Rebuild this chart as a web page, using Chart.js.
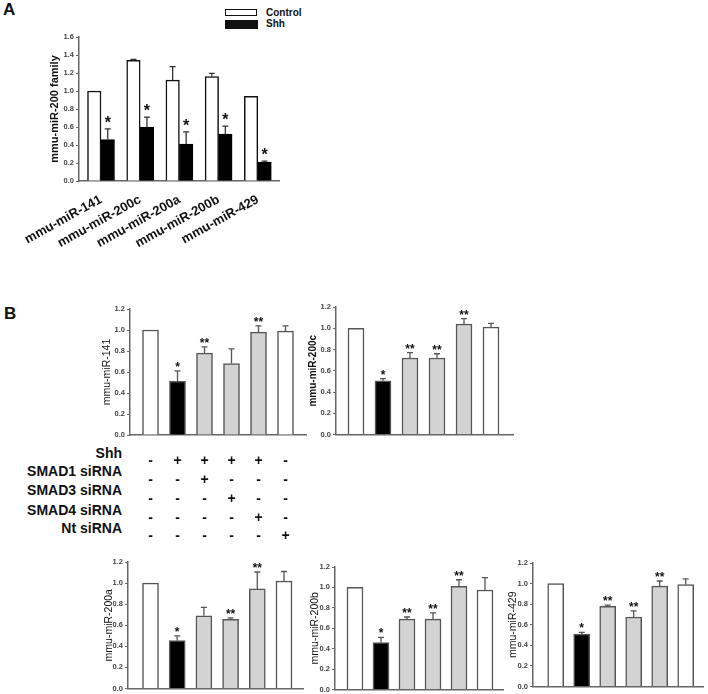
<!DOCTYPE html>
<html lang="en">
<head>
<meta charset="UTF-8">
<title>mmu-miR-200 family</title>
<script src="https://cdn.jsdelivr.net/npm/chart.js"></script>
<style>
  body { margin: 0; background: #fff; font-family: Arial, "Liberation Sans", sans-serif; }
  #page { position: relative; width: 708px; height: 694px; overflow: hidden; }
  .box { position: absolute; }
  .lbl { position: absolute; font-weight: bold; color: #111; white-space: nowrap; }
</style>
</head>
<body>
<div id="page">
  <div class="lbl" style="left:3px;top:0px;font-size:17px;">A</div>
  <div class="lbl" style="left:4px;top:304px;font-size:17px;">B</div>

  <div class="box" style="left:225px;top:9px;width:30px;height:5px;border:1.5px solid #111;background:#fff;"></div>
  <div class="box" style="left:225px;top:20px;width:33px;height:9px;background:#111;"></div>
  <div class="lbl" style="left:266px;top:7px;font-size:10px;">Control</div>
  <div class="lbl" style="left:266px;top:18px;font-size:10px;">Shh</div>
</div>

<script>
// ---- panel A ----
const groupsA = ['mmu-miR-141', 'mmu-miR-200c', 'mmu-miR-200a', 'mmu-miR-200b', 'mmu-miR-429'];
const controlA = [1.0, 1.34, 1.12, 1.16, 0.94];
const controlErrA = [0, 0.01, 0.15, 0.035, 0];
const shhA = [0.46, 0.60, 0.41, 0.52, 0.21];
const shhErrA = [0.12, 0.11, 0.135, 0.09, 0.01];
const starsA = ['*', '*', '*', '*', '*'];

// ---- panel B: treatment table ----
const rowNames = ['Shh', 'SMAD1 siRNA', 'SMAD3 siRNA', 'SMAD4 siRNA', 'Nt siRNA'];
const shhRow   = ['-', '+', '+', '+', '+', '-'];
const smad1Row = ['-', '-', '+', '-', '-', '-'];
const smad3Row = ['-', '-', '-', '+', '-', '-'];
const smad4Row = ['-', '-', '-', '-', '+', '-'];
const ntRow    = ['-', '-', '-', '-', '-', '+'];

const mir141 = [1.0, 0.51, 0.78, 0.68, 0.98, 0.99];
const mir141Err = [0, 0.10, 0.06, 0.14, 0.06, 0.05];
const mir141Stars = ['', '*', '**', '', '**', ''];

const mir200c = [1.0, 0.505, 0.72, 0.72, 1.04, 1.01];
const mir200cErr = [0, 0.02, 0.05, 0.04, 0.05, 0.035];
const mir200cStars = ['', '*', '**', '**', '**', ''];

const mir200a = [1.0, 0.455, 0.69, 0.655, 0.945, 1.02];
const mir200aErr = [0, 0.045, 0.08, 0.015, 0.16, 0.09];
const mir200aStars = ['', '*', '', '**', '**', ''];

const mir200b = [1.0, 0.46, 0.69, 0.69, 1.01, 0.975];
const mir200bErr = [0, 0.05, 0.02, 0.06, 0.065, 0.12];
const mir200bStars = ['', '*', '**', '**', '**', ''];

const mir429 = [1.0, 0.51, 0.78, 0.675, 0.975, 0.99];
const mir429Err = [0, 0.015, 0.01, 0.06, 0.05, 0.055];
const mir429Stars = ['', '*', '**', '**', '**', ''];

const yMaxA = 1.6, yMaxB = 1.2, yStep = 0.2;

// styles
const font = 'Arial, "Liberation Sans", sans-serif';
const fillsB = ['#ffffff', '#000000', '#d3d3d3', '#d3d3d3', '#d3d3d3', '#ffffff'];
const axisCol = '#666';

const page = document.getElementById('page');

// condition columns as multi-line tick labels
const condLabels = shhRow.map((v, i) => [v, smad1Row[i], smad3Row[i], smad4Row[i], ntRow[i]]);

// row names of the table
const rowY = [453, 471, 490, 510, 528];
rowNames.forEach((t, i) => {
  const d = document.createElement('div');
  d.className = 'lbl';
  d.style.cssText = `right:${708 - 122}px;top:${rowY[i] - 9}px;font-size:14px;line-height:18px;`;
  d.textContent = t;
  page.appendChild(d);
});

const errorBars = {
  id: 'errorBars',
  afterDatasetsDraw(chart) {
    const ctx = chart.ctx, y = chart.scales.y;
    chart.data.datasets.forEach((ds, i) => {
      chart.getDatasetMeta(i).data.forEach((bar, j) => {
        const e = ds.errors[j] || 0;
        const tip = y.getPixelForValue(ds.data[j] + e);
        ctx.save();
        if (e > 0) {
          ctx.strokeStyle = ds.errColor;
          ctx.lineWidth = 1.3;
          ctx.beginPath();
          ctx.moveTo(bar.x, bar.y);
          ctx.lineTo(bar.x, tip);
          ctx.moveTo(bar.x - 3, tip);
          ctx.lineTo(bar.x + 3, tip);
          ctx.stroke();
        }
        if (ds.stars[j]) {
          ctx.fillStyle = '#111';
          ctx.font = ds.starFont;
          ctx.textAlign = 'center';
          ctx.textBaseline = 'alphabetic';
          ctx.fillText(ds.stars[j], bar.x, tip - ds.starGap);
        }
        ctx.restore();
      });
    });
  }
};

function panel(p) {
  const left = p.L - p.axisW, top = p.T - 12;
  const w = p.R - left + 4, h = p.B - top + p.xh;
  const wrap = document.createElement('div');
  wrap.className = 'box';
  wrap.style.cssText = `left:${left}px;top:${top}px;width:${w}px;height:${h}px;`;
  const cv = document.createElement('canvas');
  wrap.appendChild(cv);
  page.appendChild(wrap);
  const W = p.R - p.L;
  return new Chart(cv, {
    type: 'bar',
    data: { labels: p.labels, datasets: p.datasets },
    options: {
      responsive: true,
      maintainAspectRatio: false,
      animation: false,
      layout: { padding: { left: 0, top: 12, right: 4, bottom: 0 } },
      plugins: { legend: { display: false }, tooltip: { enabled: false } },
      scales: {
        x: {
          grid: { display: false },
          border: { color: axisCol, width: 1.5 },
          ticks: Object.assign({ display: p.showX, autoSkip: false, color: '#111' }, p.xTicks || {}),
          afterBuildTicks: s => { s._valueRange = W / p.spacing; s._startValue = -p.gap / p.spacing; },
          afterFit: s => { s.height = p.xh; }
        },
        y: {
          min: 0,
          max: p.ymax,
          ticks: { stepSize: yStep, callback: v => v.toFixed(1), color: '#444', padding: 2,
                   font: { family: font, size: 7.5, weight: 'bold' } },
          grid: { drawOnChartArea: false, tickLength: 3, tickColor: axisCol, tickWidth: 1.2 },
          border: { color: axisCol, width: 1.5 },
          title: { display: true, text: p.ytitle, color: '#111', font: p.titleFont,
                   padding: { top: p.titleX - left - p.titleFont.size * 0.6, bottom: 0 } },
          afterFit: s => { s.width = p.axisW; }
        }
      }
    },
    plugins: [errorBars]
  });
}

// panel A
panel({
  L: 79, R: 279, T: 37, B: 181, axisW: 79, xh: 69, gap: 22, spacing: 39.2,
  ymax: yMaxA, ytitle: 'mmu-miR-200 family', titleX: 55,
  titleFont: { family: font, size: 11, weight: 'bold' },
  labels: groupsA, showX: true,
  xTicks: { minRotation: 29, maxRotation: 29, padding: 3, font: { family: font, size: 13, weight: 'bold' } },
  datasets: [
    { label: 'Control', data: controlA, errors: controlErrA, stars: [], backgroundColor: '#fff',
      borderColor: '#111', borderWidth: 1.5, barThickness: 13.5, errColor: '#333' },
    { label: 'Shh', data: shhA, errors: shhErrA, stars: starsA, backgroundColor: '#000',
      borderColor: '#000', borderWidth: 1, barThickness: 13.5, errColor: '#333',
      starFont: `bold 16px ${font}`, starGap: 1 }
  ]
});

function bPanel(L, R, T, B, titleX, gap, spacing, title, tFont, vals, errs, stars, withTable) {
  return panel({
    L, R, T, B, axisW: 60, xh: withTable ? 115 : 6, gap, spacing,
    ymax: yMaxB, ytitle: title, titleX, titleFont: tFont,
    labels: condLabels, showX: withTable,
    xTicks: { maxRotation: 0, padding: 9, font: { family: font, size: 14, weight: 'bold', lineHeight: 1.34 } },
    datasets: [{
      data: vals, errors: errs, stars, backgroundColor: fillsB, borderColor: '#555',
      borderWidth: 1.5, barThickness: 16, errColor: '#555',
      starFont: `bold 12px ${font}`, starGap: 0
    }]
  });
}

const tNorm = { family: font, size: 10.5, weight: 'normal' };
const tBold = { family: font, size: 10, weight: 'bold' };

bPanel(130, 306, 309, 435, 107, 20.5, 27, 'mmu-miR-141', tNorm, mir141, mir141Err, mir141Stars, true);
bPanel(336, 513, 307, 435, 313, 20, 27, 'mmu-miR-200c', tBold, mir200c, mir200cErr, mir200cStars, false);
bPanel(128, 303, 562, 689, 109, 22.5, 26.7, 'mmu-miR-200a', tNorm, mir200a, mir200aErr, mir200aStars, false);
bPanel(335, 503, 567, 690, 315, 20, 26, 'mmu-miR-200b', tNorm, mir200b, mir200bErr, mir200bStars, false);
bPanel(533, 703, 563, 687, 513, 22.7, 26, 'mmu-miR-429', tNorm, mir429, mir429Err, mir429Stars, false);
</script>
</body>
</html>
